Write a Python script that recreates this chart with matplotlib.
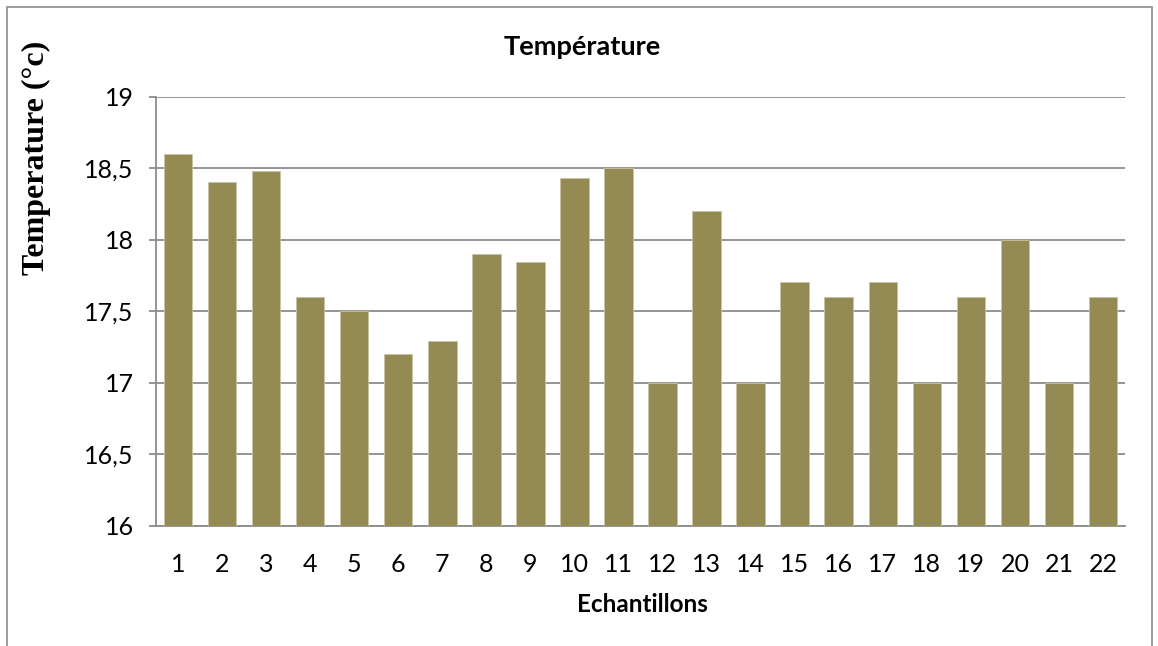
import matplotlib
matplotlib.use("Agg")
import matplotlib.pyplot as plt
from matplotlib.patches import Rectangle
from matplotlib.ticker import FuncFormatter

categories = [str(i) for i in range(1, 23)]
values = [18.6, 18.4, 18.48, 17.6, 17.5, 17.2, 17.29, 17.9, 17.84, 18.43, 18.5,
          17.0, 18.2, 17.0, 17.7, 17.6, 17.7, 17.0, 17.6, 18.0, 17.0, 17.6]
yticks = [16, 16.5, 17, 17.5, 18, 18.5, 19]

W, H = 1158, 646
fig = plt.figure(figsize=(W / 100, H / 100), dpi=100)
fig.patch.set_facecolor("white")

# outer chart frame
fig.patches.append(Rectangle((7 / W, -0.05), (1152 - 7) / W, (H - 7) / H + 0.05,
                             transform=fig.transFigure, fill=False,
                             edgecolor="#8c8c8c", linewidth=1.2))

left, right, top, bottom = 156, 1125, 96.5, 525.5
ax = fig.add_axes([left / W, 1 - bottom / H, (right - left) / W, (bottom - top) / H])

x = list(range(len(categories)))
ax.bar(x, [v - 16 for v in values], bottom=16, width=0.645, color="#948A54",
       edgecolor="#c9c3a3", linewidth=0.6, zorder=3)

ax.set_xlim(-0.5, len(categories) - 0.5)
ax.set_ylim(16, 19)
ax.set_yticks(yticks)
ax.yaxis.set_major_formatter(FuncFormatter(lambda v, p: (f"{v:g}").replace(".", ",")))
ax.set_xticks(x)
ax.set_xticklabels(categories)

ax.grid(axis="y", color="#8c8c8c", linewidth=1.3, zorder=0)
for s in ["top", "right"]:
    ax.spines[s].set_visible(False)
for s in ["left", "bottom"]:
    ax.spines[s].set_color("#8c8c8c")
    ax.spines[s].set_linewidth(1.3)
ax.tick_params(axis="y", length=5, color="#8c8c8c", width=1.3, pad=11)
ax.tick_params(axis="x", length=0, pad=20)
for lab in ax.get_xticklabels() + ax.get_yticklabels():
    lab.set_fontfamily("Lato")
    lab.set_fontsize(18)
    lab.set_color("black")

fig.text(582 / W, 1 - 47 / H, "Température", ha="center", va="center",
         fontsize=19.5, fontweight="bold", family="Lato")
fig.text(642 / W, 1 - 604 / H, "Echantillons", ha="center", va="center",
         fontsize=17.5, fontweight="bold", family="Lato")
fig.text(36 / W, 1 - 158 / H, "Temperature (°c)", ha="center", va="center", rotation=90,
         fontsize=23, fontweight="bold", family="Liberation Serif")

fig.savefig("out.png", dpi=100, facecolor="white")
